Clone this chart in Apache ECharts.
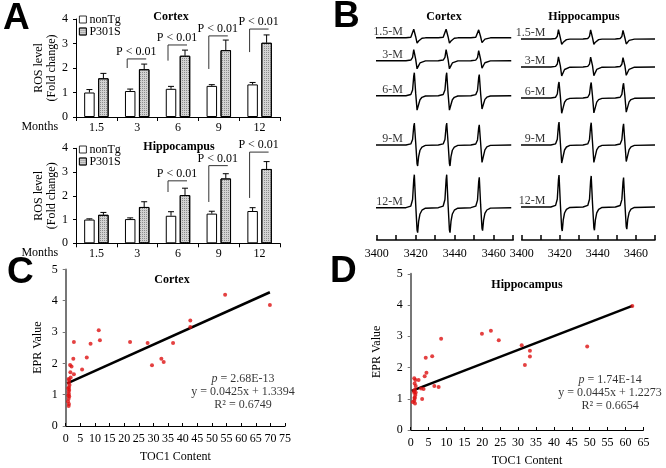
<!DOCTYPE html>
<html><head><meta charset="utf-8">
<script src="https://cdn.jsdelivr.net/npm/echarts@6/dist/echarts.min.js"></script>
<style>html,body{margin:0;padding:0;background:#fff}#c{width:666px;height:468px}</style>
</head><body><div id="c"></div>
<script>
// ---------- Panel A: ROS level (fold change) ----------
const months = ['1.5', '3', '6', '9', '12'];
const ctxNonTg = [1.0, 1.06, 1.15, 1.27, 1.33];
const ctxNonTgErr = [0.12, 0.08, 0.1, 0.05, 0.08];
const ctxP301S = [1.58, 1.95, 2.5, 2.73, 3.03];
const ctxP301SErr = [0.2, 0.21, 0.23, 0.41, 0.32];
const hipNonTg = [1.0, 1.02, 1.16, 1.25, 1.36];
const hipNonTgErr = [0.03, 0.05, 0.17, 0.1, 0.14];
const hipP301S = [1.2, 1.53, 2.03, 2.73, 3.13];
const hipP301SErr = [0.1, 0.22, 0.29, 0.2, 0.31];
// significance brackets: [month, lower end, upper end]
const ctxBrackets = [['3', 2.0, 2.37], ['6', 2.3, 2.94], ['9', 1.96, 3.31], ['12', 2.65, 3.59]];
const hipBrackets = [['6', 2.16, 2.63], ['9', 1.74, 3.27], ['12', 1.91, 3.84]];

// ---------- Panel B: EPR spectra ----------
const spectraLabels = ['1.5-M', '3-M', '6-M', '9-M', '12-M'];
const fieldTicks = [3400, 3470];
const ctxLineCenters = [3420.0, 3436.6, 3453.3];
const hipLineCenters = [3420.3, 3437.2, 3454.2];
const ctxPeakScale = [1, 1, 0.92];
const hipPeakScale = [1, 0.97, 0.92];
// one read line shape (offset from line centre in G, normalised intensity)
const shapeOffsets = [-5, -2.5, -1.6, -1.0, -0.7, 0, 0.7, 1.0, 1.5, 2.2, 3.2, 5];
const shapeValues = [0, 0.05, 0.25, 0.85, 1.0, 0.1, -0.9, -1.0, -0.55, -0.25, -0.1, -0.02];
const ctxUp = [10, 13, 23, 22, 33];
const ctxDown = [6, 9, 16, 21, 25];
const hipUp = [11, 12, 16, 23, 32];
const hipDown = [6, 10, 17, 20, 24];
const ctxBaseline = [202.3, 179.3, 144.3, 95, 32.3];
const hipBaseline = [201, 173, 142, 95, 33];
const ctxRange = [3396.5, 3469];
const hipRange = [3398, 3470];

// ---------- Panel C: Cortex EPR vs TOC1 ----------
const ctxTOC1 = [54.5, 69.8, 42.6, 42.6, 11.3, 11.7, 2.8, 8.5, 22.0, 28.0, 36.7, 2.6, 7.2, 32.7, 33.5, 29.5,
  1.5, 2.0, 5.6, 1.6, 2.8, 1.7, 1.0, 1.2, 1.1, 1.3, 1.1, 0.9, 1.2, 1.0, 1.1, 0.9, 1.2, 1.0, 0.8, 1.1, 1.0];
const ctxEPR = [4.19, 3.86, 3.37, 3.16, 3.06, 2.74, 2.68, 2.63, 2.68, 2.65, 2.65, 2.15, 2.19, 2.15, 2.04, 1.94,
  1.95, 1.9, 1.8, 1.72, 1.65, 1.55, 1.5, 1.47, 1.38, 1.31, 1.24, 1.2, 1.15, 1.09, 1.02, 0.97, 0.94, 0.87, 0.78, 0.7, 0.64];
const ctxFit = [[0.5, 1.36], [69.8, 4.27]];
const ctxStats = ['2.68E-13', 'y = 0.0425x + 1.3394', 'R² = 0.6749'];

// ---------- Panel D: Hippocampus EPR vs TOC1 ----------
const hipTOC1 = [8.5, 19.9, 22.4, 24.6, 31.0, 33.3, 33.3, 31.9, 49.3, 61.9, 4.2, 6.0, 4.4, 3.9, 2.2, 1.0, 6.6, 7.8,
  2.9, 3.6, 3.2, 1.3, 1.1, 1.4, 1.2, 1.0, 1.3, 1.1, 1.0, 1.2, 0.9, 1.1, 0.6, 1.4];
const hipEPR = [2.92, 3.08, 3.18, 2.87, 2.71, 2.54, 2.35, 2.08, 2.67, 3.97, 2.31, 2.36, 1.83, 1.72, 1.6, 1.66, 1.41, 1.38,
  1.33, 1.31, 0.99, 1.6, 1.49, 1.41, 1.3, 1.19, 1.12, 1.01, 0.94, 0.85, 1.25, 1.05, 0.9, 1.2];
const hipFit = [[0.3, 1.25], [61.9, 3.97]];
const hipStats = ['1.74E-14', 'y = 0.0445x + 1.2273', 'R² = 0.6654'];

const serif = '"Liberation Serif", "Times New Roman", serif';
const sans = '"Liberation Sans", Arial, sans-serif';
const chart = echarts.init(document.getElementById('c'));

function errSeries(xi, vals, errs, off) {
  return {
    type: 'custom', xAxisIndex: xi, yAxisIndex: xi, silent: true, z: 5,
    encode: {x: 0, y: [1, 2]},
    data: vals.map((v, i) => [months[i], v, v + errs[i]]),
    renderItem: (p, api) => {
      const a = api.coord([api.value(0), api.value(1)]);
      const b = api.coord([api.value(0), api.value(2)]);
      const x = a[0] + off;
      return {type: 'group', children: [
        {type: 'line', shape: {x1: x, y1: a[1], x2: x, y2: b[1]}, style: {stroke: '#000', lineWidth: 1}},
        {type: 'line', shape: {x1: x - 3, y1: b[1], x2: x + 3, y2: b[1]}, style: {stroke: '#000', lineWidth: 1}}
      ]};
    }
  };
}
function bracketSeries(xi, data) {
  return {
    type: 'custom', xAxisIndex: xi, yAxisIndex: xi, silent: true, z: 6,
    encode: {x: 0, y: [1, 2]},
    data: data,
    renderItem: (p, api) => {
      const c = api.coord([api.value(0), api.value(1)]);
      const t = api.coord([api.value(0), api.value(2)]);
      const xl = c[0] - 10, xr = c[0] + 9;
      return {type: 'group', children: [
        {type: 'polyline', shape: {points: [[xl, c[1]], [xl, t[1]], [xr, t[1]]]}, style: {stroke: '#333', fill: null, lineWidth: 1}},
        {type: 'text', x: c[0] - 1, y: t[1] - 1, style: {text: 'P < 0.01', font: '12px ' + serif, fill: '#000', align: 'center', verticalAlign: 'bottom'}}
      ]};
    }
  };
}
function barSeries(name, xi, vals) {
  const isTg = name === 'P301S';
  const style = {color: isTg ? '#d2d2d2' : '#ffffff', borderColor: '#000', borderWidth: 1};
  if (isTg) {
    style.decal = {symbol: 'rect', symbolSize: 1, dashArrayX: [1, 1], dashArrayY: [1, 1], color: '#8c8c8c'};
  }
  return {
    name: name, type: 'bar', xAxisIndex: xi, yAxisIndex: xi, data: vals,
    barWidth: 10.5, barGap: '33%', itemStyle: style
  };
}
function spectrum(centers, scale, up, down, base, range) {
  const pts = [[range[0], base]];
  centers.forEach((c, k) => {
    shapeOffsets.forEach((o, i) => {
      const v = shapeValues[i];
      pts.push([c + o, base + v * (v >= 0 ? up : down) * scale[k]]);
    });
  });
  pts.push([range[1], base]);
  return pts;
}
const spectraSeries = [];
spectraLabels.forEach((lab, r) => {
  spectraSeries.push({type: 'line', xAxisIndex: 2, yAxisIndex: 2, clip: false, symbol: 'none', silent: true,
    lineStyle: {color: '#000', width: 1.4},
    data: spectrum(ctxLineCenters, ctxPeakScale, ctxUp[r], ctxDown[r], ctxBaseline[r], ctxRange)});
  spectraSeries.push({type: 'line', xAxisIndex: 3, yAxisIndex: 3, clip: false, symbol: 'none', silent: true,
    lineStyle: {color: '#000', width: 1.4},
    data: spectrum(hipLineCenters, hipPeakScale, hipUp[r], hipDown[r], hipBaseline[r], hipRange)});
});
const labelStyle = {show: true, position: 'left', distance: 0, color: '#000', fontFamily: serif, fontSize: 12, formatter: p => p.data[2]};
spectraSeries.push({type: 'scatter', xAxisIndex: 2, yAxisIndex: 2, symbolSize: 0, silent: true, clip: false,
  data: spectraLabels.map((l, r) => [3413.5, ctxBaseline[r] + 6, l]), label: labelStyle});
spectraSeries.push({type: 'scatter', xAxisIndex: 3, yAxisIndex: 3, symbolSize: 0, silent: true, clip: false,
  data: spectraLabels.map((l, r) => [3412.5, hipBaseline[r] + 6, l]), label: labelStyle});

function statsSeries(idx, pos, stats) {
  return {type: 'scatter', xAxisIndex: idx, yAxisIndex: idx, symbolSize: 0, silent: true,
    data: [pos],
    label: {show: true, position: 'inside', color: '#000', fontFamily: serif, fontSize: 12, lineHeight: 13, align: 'center',
      formatter: '{i|p} = ' + stats[0] + '\n' + stats[1] + '\n' + stats[2],
      rich: {i: {fontStyle: 'italic', fontFamily: serif, fontSize: 12, color: '#000'}}}};
}

const axisText = {color: '#000', fontFamily: serif, fontSize: 12};
function barX(gi) {
  return {type: 'category', gridIndex: gi, data: months,
    axisLine: {lineStyle: {color: '#000', width: 1}},
    axisTick: {show: true, length: 4, lineStyle: {color: '#000'}},
    axisLabel: Object.assign({margin: 5, interval: 0}, axisText),
    name: 'Months', nameLocation: 'start', nameGap: 10,
    nameTextStyle: Object.assign({verticalAlign: 'top', lineHeight: 20}, axisText)};
}
function barY(gi) {
  return {type: 'value', gridIndex: gi, min: 0, max: 4, interval: 1,
    axisLine: {show: true, lineStyle: {color: '#000'}},
    axisTick: {show: true, length: 3, lineStyle: {color: '#000'}},
    splitLine: {show: false},
    axisLabel: Object.assign({margin: 8}, axisText),
    name: 'ROS level\n(Fold change)', nameLocation: 'middle', nameGap: 18,
    nameTextStyle: Object.assign({lineHeight: 13}, axisText)};
}
function fieldX(gi) {
  return {type: 'value', gridIndex: gi, min: fieldTicks[0], max: fieldTicks[1], interval: 10,
    axisLine: {lineStyle: {color: '#000', width: 1.5}},
    axisTick: {inside: true, length: 5, lineStyle: {color: '#000', width: 1.5}},
    splitLine: {show: false},
    axisLabel: Object.assign({margin: 8, formatter: v => (v % 20 === 0 ? String(v) : '')}, axisText)};
}
function scatX(gi, max) {
  return {type: 'value', gridIndex: gi, min: 0, max: max, interval: 5,
    axisLine: {lineStyle: {color: '#000', width: 1}},
    axisTick: {inside: true, length: 3, lineStyle: {color: '#000'}},
    splitLine: {show: false},
    axisLabel: Object.assign({margin: 7}, axisText),
    name: 'TOC1 Content', nameLocation: 'middle', nameGap: 25, nameTextStyle: axisText};
}
function scatY(gi, gap) {
  return {type: 'value', gridIndex: gi, min: 0, max: 5, interval: 1,
    axisLine: {show: true, lineStyle: {color: '#777', width: 2}},
    axisTick: {show: true, length: 3, lineStyle: {color: '#777'}},
    splitLine: {show: false},
    axisLabel: Object.assign({margin: 8}, axisText),
    name: 'EPR Value', nameLocation: 'middle', nameGap: gap, nameTextStyle: axisText};
}

const letter = {fontFamily: sans, fontWeight: 'bold', fontSize: 37, color: '#000'};
const head = {fontFamily: serif, fontWeight: 'bold', fontSize: 12, color: '#000'};
const legendBase = {orient: 'vertical', left: 79, itemWidth: 7, itemHeight: 7, itemGap: 0, icon: 'rect',
  data: ['nonTg', 'P301S'], itemStyle: {borderWidth: 0.8},
  textStyle: Object.assign({lineHeight: 11, padding: [0, 0, 0, -2]}, axisText), padding: 0};

const option = {
  animation: false,
  backgroundColor: '#fff',
  textStyle: {fontFamily: serif, color: '#000'},
  title: [
    {text: 'A', left: 3, top: 0, padding: 0, textStyle: letter},
    {text: 'B', left: 333, top: -2, padding: 0, textStyle: letter},
    {text: 'C', left: 7, top: 254, padding: 0, textStyle: letter},
    {text: 'D', left: 330, top: 253, padding: 0, textStyle: letter},
    {text: 'Cortex', left: 171, top: 11, textAlign: 'center', padding: 0, textStyle: head},
    {text: 'Hippocampus', left: 179, top: 141, textAlign: 'center', padding: 0, textStyle: head},
    {text: 'Cortex', left: 444, top: 11, textAlign: 'center', padding: 0, textStyle: head},
    {text: 'Hippocampus', left: 584, top: 11, textAlign: 'center', padding: 0, textStyle: head},
    {text: 'Cortex', left: 172, top: 274, textAlign: 'center', padding: 0, textStyle: head},
    {text: 'Hippocampus', left: 527, top: 279, textAlign: 'center', padding: 0, textStyle: head}
  ],
  legend: [
    Object.assign({top: 13.5}, legendBase),
    Object.assign({top: 143.5}, legendBase)
  ],
  grid: [
    {left: 76, top: 19, width: 204, height: 98},
    {left: 76, top: 148.3, width: 204, height: 95},
    {left: 376.7, top: 10, width: 136.5, height: 230},
    {left: 521.7, top: 10, width: 133.3, height: 230},
    {left: 65.7, top: 269.4, width: 219.4, height: 156.6},
    {left: 410.7, top: 273.75, width: 232.7, height: 156.25}
  ],
  xAxis: [barX(0), barX(1), fieldX(2), fieldX(3), scatX(4, 75), scatX(5, 65)],
  yAxis: [barY(0), barY(1),
    {type: 'value', gridIndex: 2, min: 0, max: 230, show: false},
    {type: 'value', gridIndex: 3, min: 0, max: 230, show: false},
    scatY(4, 22), scatY(5, 28)],
  series: [
    barSeries('nonTg', 0, ctxNonTg), barSeries('P301S', 0, ctxP301S),
    errSeries(0, ctxNonTg, ctxNonTgErr, -7), errSeries(0, ctxP301S, ctxP301SErr, 7),
    bracketSeries(0, ctxBrackets),
    barSeries('nonTg', 1, hipNonTg), barSeries('P301S', 1, hipP301S),
    errSeries(1, hipNonTg, hipNonTgErr, -7), errSeries(1, hipP301S, hipP301SErr, 7),
    bracketSeries(1, hipBrackets),
    ...spectraSeries,
    {type: 'scatter', xAxisIndex: 4, yAxisIndex: 4, symbolSize: 4, itemStyle: {color: '#dd1111'},
      data: ctxTOC1.map((x, i) => [x, ctxEPR[i]])},
    {type: 'line', xAxisIndex: 4, yAxisIndex: 4, symbol: 'none', lineStyle: {color: '#000', width: 2.5}, data: ctxFit, z: 1},
    statsSeries(4, [60.6, 1.09], ctxStats),
    {type: 'scatter', xAxisIndex: 5, yAxisIndex: 5, symbolSize: 4, itemStyle: {color: '#dd1111'},
      data: hipTOC1.map((x, i) => [x, hipEPR[i]])},
    {type: 'line', xAxisIndex: 5, yAxisIndex: 5, symbol: 'none', lineStyle: {color: '#000', width: 2.5}, data: hipFit, z: 1},
    statsSeries(5, [55.7, 1.18], hipStats)
  ]
};
chart.setOption(option);
</script>
</body></html>
